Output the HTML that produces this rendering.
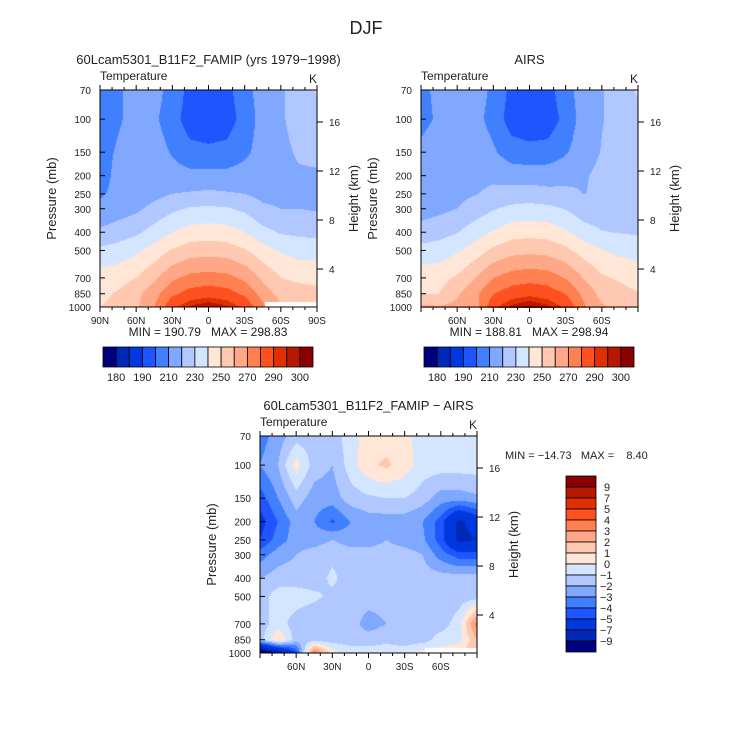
<!DOCTYPE html>
<html><head><meta charset="utf-8">
<style>
body{margin:0;background:#fff;}
#wrap{position:relative;width:733px;height:745px;overflow:hidden;font-family:"Liberation Sans",sans-serif;color:#222;}
canvas{position:absolute;}
svg{position:absolute;left:0;top:0;}
svg text{white-space:pre;}
</style></head>
<body>
<div id="wrap">
<canvas id="c1" width="217" height="217" style="left:100px;top:90px"></canvas>
<canvas id="c2" width="217" height="218" style="left:421px;top:90px"></canvas>
<canvas id="c3" width="217" height="217" style="left:260px;top:436px"></canvas>
<svg id="ov" width="733" height="745"></svg>
</div>
<script>
// ---- data ----
const levels=[70,100,150,200,250,300,400,500,700,850,1000];
const lats=[90,75,60,45,30,15,0,-15,-30,-45,-60,-75,-90];
const model=[
[205,209,213,214,206,197,195,197,206,215,219,223,231],
[205,209,213,212,204,195,194,195,204,214,219,223,226],
[207,211,214,215,209,203,202,203,208,214,218,221,222],
[207,212,214,215,214,213,213,213,214,216,218,219,219],
[209,212,215,217,220,221,222,221,220,217,217,218,218],
[212,215,218,223,228,231,232,231,228,222,220,220,219],
[222,225,228,234,240,244,245,244,240,233,229,228,227],
[232,234,238,244,251,255,256,255,251,244,239,236,236],
[244,246,250,258,268,273,274,273,268,258,250,248,247],
[248,251,257,266,278,284,286,284,278,266,256,254,253],
[250,252,258,270,288,296,300.5,296,288,272,262,258,256]];
const diff=[
[-3.5,-2.5,-1.5,-1.5,-1.5,-0.5,0.5,0.5,0.3,-0.5,-0.5,-0.5,-0.5],
[-3,-2,0.5,-1.5,-2,-0.5,0.8,1.2,0.5,-0.5,-0.5,-0.5,-0.5],
[-4.5,-3,-1.5,-2.5,-2.5,-1.5,-1.2,-1,-1,-1.5,-2.5,-2.5,-2.2],
[-5.5,-4,-2.5,-3,-4.2,-3,-2.5,-2.5,-2.5,-3,-4.5,-7.5,-6],
[-5,-3.5,-2.5,-2.5,-2,-2.5,-2.5,-2,-2.5,-2.8,-4.5,-7.5,-7],
[-3.5,-2.5,-2,-1.5,-1.2,-1.5,-1.5,-1.5,-1.5,-2,-3.5,-4.5,-4.5],
[-2,-1.5,-1.5,-1.5,-0.8,-1.5,-1.5,-1.5,-1.5,-1.5,-1.5,-1.5,-1.5],
[-1.5,-0.5,-0.5,-0.8,-1.2,-1.5,-1.5,-1.5,-1.5,-1.5,-1.5,-1.5,-1.5],
[-1.5,-0.5,-1.5,-1.8,-2,-1.5,-2.5,-2,-1.5,-1.5,-1.5,-0.5,3.5],
[-1.5,1,-1.5,-1.5,-1.5,-1.5,-1.5,-1.2,-1.5,-1.5,-0.5,-0.5,2],
[-12,-9,-5,4,0.5,-0.5,-0.5,-0.5,-0.5,0.5,0.5,1,2]];
const tempBounds=[180,185,190,200,210,220,230,240,250,260,270,280,290,295,300];
const tempLabels=["180","190","210","230","250","270","290","300"];
const diffBounds=[-9,-7,-5,-4,-3,-2,-1,0,1,2,3,4,5,7,9];
const diffLabels=["9","7","5","4","3","2","1","0","\u22121","\u22122","\u22123","\u22124","\u22125","\u22127","\u22129"];
const pTicks=[70,100,150,200,250,300,400,500,700,850,1000];
const zTicks=[4,8,12,16];
const colors=["#00007f","#0028b8","#0038e0","#1f55ff","#4080ff","#80a8ff","#b0c8ff","#d4e6ff","#ffe6d6","#ffc8b0","#ffa888","#ff8050","#ff5020","#e03000","#b81800","#8b0000"];
// ---- helpers ----
const L0=Math.log(70),L1=Math.log(1000);
function yOfP(p,top,h){return top+(Math.log(p)-L0)/(L1-L0)*h;}
function xOfLat(lat,left,w){return left+(90-lat)/180*w;}
function field(grid,lat,p){
  const fi=(90-lat)/15; let i=Math.min(11,Math.max(0,Math.floor(fi))); const fx=fi-i;
  const lp=Math.log(p); let j=0; while(j<levels.length-2&&Math.log(levels[j+1])<lp)j++;
  const fy=(lp-Math.log(levels[j]))/(Math.log(levels[j+1])-Math.log(levels[j]));
  const a=grid[j][i],b=grid[j][i+1],c=grid[j+1][i],d=grid[j+1][i+1];
  return (a*(1-fx)+b*fx)*(1-fy)+(c*(1-fx)+d*fx)*fy;
}
function colorIdx(v,bounds){let k=0;while(k<bounds.length&&v>=bounds[k])k++;return k;}
function hex(h){return [parseInt(h.substr(1,2),16),parseInt(h.substr(3,2),16),parseInt(h.substr(5,2),16)];}
const rgb=colors.map(hex);
function draw(id,fn,bounds,mask){
  const cv=document.getElementById(id),ctx=cv.getContext('2d');
  const W=cv.width,H=217,img=ctx.createImageData(W,cv.height);
  for(let y=0;y<cv.height;y++)for(let x=0;x<W;x++){
    const lat=90-(x+0.5)/W*180;
    const p=Math.exp(L0+Math.min(1,(y+0.5)/H)*(L1-L0));
    let c=[255,255,255];
    if(!(mask&&lat<-47&&p>935)) c=rgb[colorIdx(fn(lat,p),bounds)];
    const o=(y*W+x)*4;img.data[o]=c[0];img.data[o+1]=c[1];img.data[o+2]=c[2];img.data[o+3]=255;
  }
  ctx.putImageData(img,0,0);
}
draw('c1',(la,p)=>field(model,la,p),tempBounds,true);
draw('c2',(la,p)=>field(model,la,p)-field(diff,la,p),tempBounds,false);
draw('c3',(la,p)=>field(diff,la,p),diffBounds,true);
// ---- overlay ----
const ov=document.getElementById('ov');const NS="http://www.w3.org/2000/svg";
function el(tag,attrs,parent){const e=document.createElementNS(NS,tag);for(const k in attrs)e.setAttribute(k,attrs[k]);(parent||ov).appendChild(e);return e;}
function txt(s,x,y,size,anchor,name,rot){const e=el('text',{x:x,y:y,'font-size':size,'text-anchor':anchor||'start',fill:'#222','font-family':'Liberation Sans, sans-serif'});if(rot)e.setAttribute('transform','rotate(-90 '+x+' '+y+')');e.textContent=s;


return e;}
const H0=6.66,P0=1145;
function panel(left,top,w,h,title,showEnds,pfx){
  el('rect',{x:left,y:top,width:w,height:h,fill:'none',stroke:'#000','stroke-width':1});
  txt(title,left+w/2,top-26,13,'middle',pfx+'-title');
  txt('Temperature',left,top-10,12,'start',pfx+'-variable-label');
  txt('K',left+w,top-7,12,'end',pfx+'-units-label');
  pTicks.forEach(p=>{const y=yOfP(p,top,h);el('line',{x1:left,x2:left+5,y1:y,y2:y,stroke:'#000'});
    txt(String(p),left-9,y+4,10,'end',pfx+'-pressure-tick-label');});
  zTicks.forEach(z=>{const p=P0*Math.exp(-z/H0);const y=yOfP(p,top,h);el('line',{x1:left+w,x2:left+w+6,y1:y,y2:y,stroke:'#000'});
    txt(String(z),left+w+12,y+4,10,'start',pfx+'-height-tick-label');});
  for(let la=90;la>=-90;la-=10){const x=xOfLat(la,left,w);const maj=la%30===0;
    el('line',{x1:x,x2:x,y1:top+h,y2:top+h+(maj?5:3),stroke:'#000'});
    el('line',{x1:x,x2:x,y1:top,y2:top-(maj?5:3),stroke:'#000'});
    if(maj&&(showEnds||Math.abs(la)<90)){const s=la===0?'0':Math.abs(la)+(la>0?'N':'S');txt(s,x,top+h+17,10,'middle',pfx+'-lat-tick-label');}}
  txt('Pressure (mb)',left-44,top+h/2,13,'middle',pfx+'-y-axis-title',true);
  txt('Height (km)',left+w+41,top+h/2,13,'middle',pfx+'-y2-axis-title',true);
}
txt('DJF',366,34,18,'middle','figure-title');
panel(100,90,217,217,'60Lcam5301_B11F2_FAMIP (yrs 1979\u22121998)',true,'model');
panel(421,90,217,217,'AIRS',false,'airs');
panel(260,436,217,217,'60Lcam5301_B11F2_FAMIP \u2212 AIRS',false,'diff');
txt('MIN = 190.79   MAX = 298.83',208,336,12,'middle','model-min-max');
txt('MIN = 188.81   MAX = 298.94',529,336,12,'middle','airs-min-max');
txt('MIN = \u221214.73   MAX =    8.40',505,459,11,'start','diff-min-max');
function hbar(left,top,w,h,pfx){
  const bw=w/colors.length;
  colors.forEach((c,i)=>{const r=el('rect',{x:left+i*bw,y:top,width:bw,height:h,fill:c,stroke:'#000','stroke-width':0.8});
    
    });
  tempLabels.forEach((s,k)=>{txt(s,left+(1+2*k)*bw,top+h+14,11,'middle',pfx+'-colorbar-label');});
}
hbar(103,347,210,20,'model');hbar(424,347,210,20,'airs');
(function(){const left=566,top=476,w=30,h=176,bh=h/colors.length;
  for(let i=0;i<colors.length;i++){const r=el('rect',{x:left,y:top+i*bh,width:w,height:bh,fill:colors[colors.length-1-i],stroke:'#000','stroke-width':0.8});
    
    }
  diffLabels.forEach((s,k)=>{txt(s,left+w+(s.length>1?4:8),top+(k+1)*bh+4,11,'start','diff-colorbar-label');});
})();
</script>
</body></html>
